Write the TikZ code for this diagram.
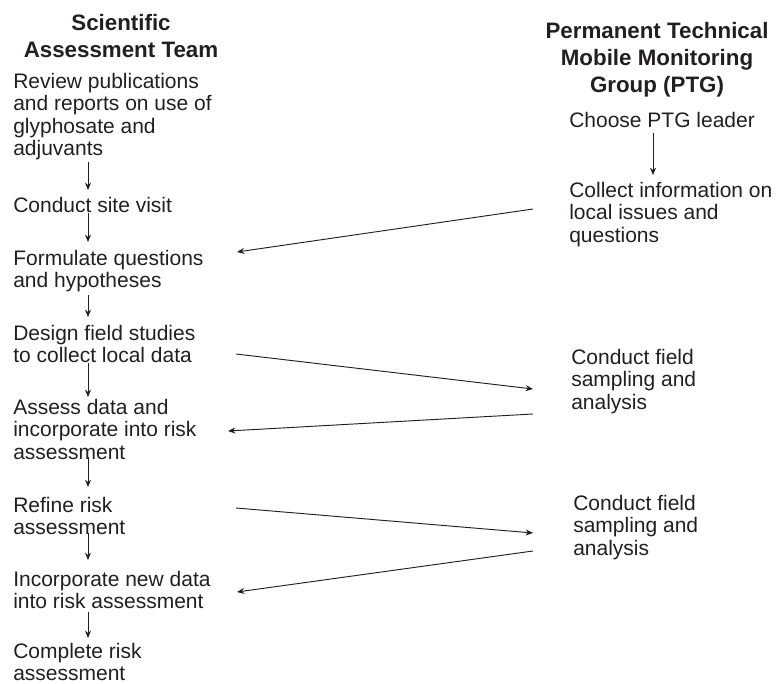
\documentclass[tikz,border=0pt]{standalone}
\usepackage{fontspec}
\setmainfont{Liberation Sans}
\usetikzlibrary{arrows.meta,calc}
\definecolor{ink}{HTML}{231F20}
\begin{document}
\begin{tikzpicture}[x=0.75pt,y=-0.75pt,
  txt/.style={anchor=north west, inner sep=0pt, align=left, text=ink,
    font=\fontsize{15.75}{16.875}\selectfont},
  hdr/.style={anchor=north, inner sep=0pt, align=center, text=ink,
    font=\bfseries\fontsize{16.75}{20.25}\selectfont},
  arr/.style={draw=ink, line width=0.7pt, -{Stealth[length=5.5pt,width=4.5pt]}}]
\useasboundingbox (0,0) rectangle (776,684);

% headers
\node[hdr] (hl) at (121,14) {Scientific\\Assessment Team};
\node[hdr] (hr) at (657,22) {Permanent Technical\\Mobile Monitoring\\Group (PTG)};

% left column
\node[txt] (n1) at (13,73) {Review publications\\and reports on use of\\glyphosate and\\adjuvants};
\node[txt] (n2) at (13,197) {Conduct site visit};
\node[txt] (n3) at (13,250) {Formulate questions\\and hypotheses};
\node[txt] (n4) at (13,325) {Design field studies\\to collect local data};
\node[txt] (n5) at (13,399) {Assess data and\\incorporate into risk\\assessment};
\node[txt] (n6) at (13,497) {Refine risk\\assessment};
\node[txt] (n7) at (13,571) {Incorporate new data\\into risk assessment};
\node[txt] (n8) at (13,643) {Complete risk\\assessment};

% right column
\node[txt] (a) at (569,112) {Choose PTG leader};
\node[txt] (b) at (569,182) {Collect information on\\local issues and\\questions};
\node[txt] (c) at (571,349) {Conduct field\\sampling and\\analysis};
\node[txt] (d) at (573,495) {Conduct field\\sampling and\\analysis};

% vertical arrows
\draw[arr] ($(n1.north west)+(75,89)$) -- ($(n2.north west)+(75,-7)$);
\draw[arr] ($(n2.north west)+(75,16)$) -- ($(n3.north west)+(75,-8)$);
\draw[arr] ($(n3.north west)+(75,45)$) -- ($(n4.north west)+(75,-8)$);
\draw[arr] ($(n4.north west)+(75,38)$) -- ($(n5.north west)+(75,-2)$);
\draw[arr] ($(n5.north west)+(75,58)$) -- ($(n6.north west)+(75,-10)$);
\draw[arr] ($(n6.north west)+(75,36)$) -- ($(n7.north west)+(75,-11)$);
\draw[arr] ($(n7.north west)+(75,41)$) -- ($(n8.north west)+(75,-5)$);
\draw[arr] ($(a.north west)+(84,21)$) -- ($(b.north west)+(84,-7)$);

% cross arrows
\draw[arr] ($(b.north west)+(-36,27)$) -- ($(n3.north west)+(224,2)$);
\draw[arr] ($(n4.north west)+(223,29)$) -- ($(c.north west)+(-38,40)$);
\draw[arr] ($(c.north west)+(-38,65)$) -- ($(n5.north west)+(215,32)$);
\draw[arr] ($(n6.north west)+(223,11)$) -- ($(d.north west)+(-40,38)$);
\draw[arr] ($(d.north west)+(-40,56)$) -- ($(n7.north west)+(224,21)$);
\end{tikzpicture}
\end{document}
